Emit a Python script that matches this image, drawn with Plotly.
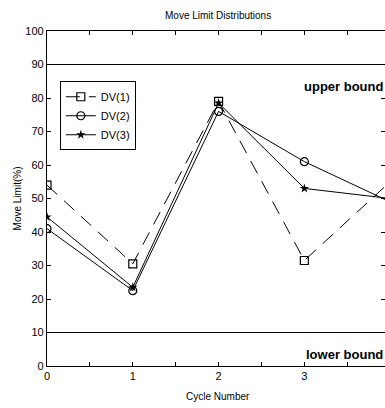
import plotly.graph_objects as go

cycles = [0, 1, 2, 3, 4]
dv1 = [54, 30.5, 79, 31.5, 55]
dv2 = [41, 22.5, 76, 61, 49]
dv3 = [44.5, 23.5, 78.5, 53, 50]
bounds = [90, 10]
bound_labels = ["upper bound", "lower bound"]
x_ticks = [0, 0.5, 1, 1.5, 2, 2.5, 3, 3.5]
x_ticktext = ["0", "", "1", "", "2", "", "3", ""]
y_ticks = [0, 10, 20, 30, 40, 50, 60, 70, 80, 90, 100]

FONT = "Liberation Sans, Arial, sans-serif"

fig = go.Figure()
fig.add_trace(go.Scatter(x=cycles, y=dv1, name="DV(1)", mode="lines+markers",
                         line=dict(color="black", width=1, dash="14px,9px"),
                         marker=dict(symbol="square-open", size=8, color="black", line=dict(width=1.2))))
fig.add_trace(go.Scatter(x=cycles, y=dv2, name="DV(2)", mode="lines+markers",
                         line=dict(color="black", width=1),
                         marker=dict(symbol="circle-open", size=8, color="black", line=dict(width=1.2))))
fig.add_trace(go.Scatter(x=cycles, y=dv3, name="DV(3)", mode="lines+markers",
                         line=dict(color="black", width=1),
                         marker=dict(symbol="star", size=7, color="black")))

for b, lab in zip(bounds, bound_labels):
    fig.add_hline(y=b, line=dict(color="black", width=1.2))
    fig.add_annotation(x=1, xref="paper", xanchor="right", y=b - 6.5, yref="y", yanchor="middle",
                       text="<b>" + lab + "</b>", showarrow=False,
                       font=dict(family=FONT, size=13, color="black"))

fig.add_annotation(x=0.506, xref="paper", xanchor="center", y=1.045, yref="paper", yanchor="middle",
                   text="Move Limit Distributions",
                   showarrow=False, font=dict(family=FONT, size=10, color="black"))
fig.add_annotation(x=0.506, xref="paper", xanchor="center", y=-0.09, yref="paper", yanchor="middle",
                   text="Cycle Number",
                   showarrow=False, font=dict(family=FONT, size=10, color="black"))
fig.add_annotation(x=-0.086, xref="paper", xanchor="center", y=0.5, yref="paper", yanchor="middle",
                   text="Move Limit(%)",
                   textangle=-90, showarrow=False, font=dict(family=FONT, size=10, color="black"))

fig.update_xaxes(range=[0, 3.94], tickvals=x_ticks, ticktext=x_ticktext, ticks="inside",
                 ticklen=4, tickcolor="black", showline=True, linecolor="black", linewidth=1.2,
                 mirror="ticks", showgrid=False, zeroline=False,
                 tickfont=dict(family=FONT, size=11, color="black"))
fig.update_yaxes(range=[0, 100], tickvals=y_ticks, ticks="inside", ticklen=4, tickcolor="black",
                 showline=True, linecolor="black", linewidth=1.2, mirror="ticks", showgrid=False,
                 zeroline=False, tickfont=dict(family=FONT, size=11, color="black"))

fig.update_layout(
    width=385, height=408,
    margin=dict(l=47, r=0, t=31, b=42),
    paper_bgcolor="white", plot_bgcolor="white",
    showlegend=True,
    legend=dict(x=0.038, y=0.85, xanchor="left", yanchor="top", bordercolor="black", borderwidth=1,
                bgcolor="white", font=dict(family=FONT, size=11, color="black"),
                tracegroupgap=0, itemwidth=30),
)

fig.write_html("out.html")
